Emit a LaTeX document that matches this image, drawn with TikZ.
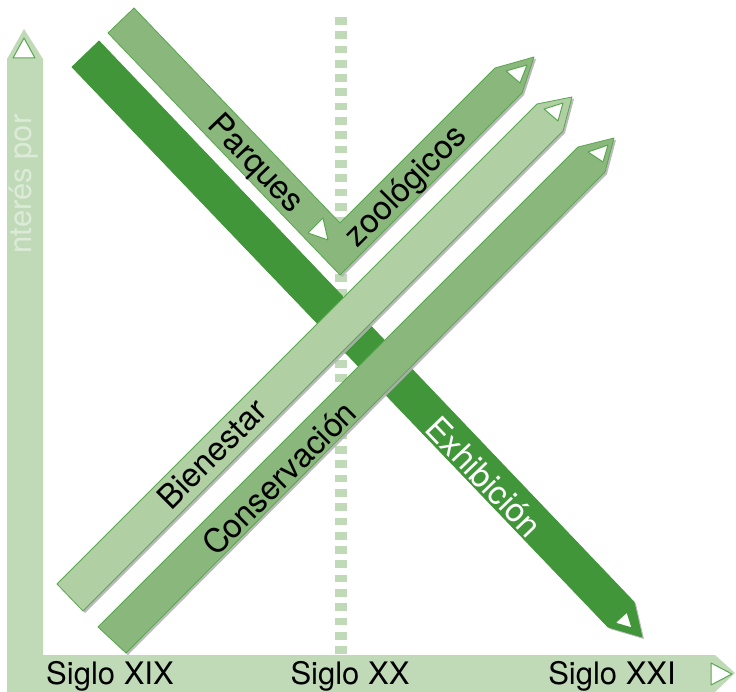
\documentclass[tikz,border=0pt]{standalone}
\usepackage{fontspec}
\setmainfont{TeX Gyre Heros}
\usetikzlibrary{shadows}
\definecolor{darkband}{HTML}{409638}
\definecolor{midband}{HTML}{8AB77C}
\definecolor{lightband}{HTML}{B0D0A4}
\definecolor{axisband}{HTML}{C0DAB8}
\definecolor{edgegreen}{HTML}{5AA650}
\begin{document}
\begin{tikzpicture}[
		x=1pt, y=-1pt,
		band/.style={draw=edgegreen, line width=0.8pt, line join=round,
				drop shadow={shadow xshift=2pt, shadow yshift=-2pt, fill=black!30, opacity=0.9}},
		tipmark/.style={draw=edgegreen, fill=white, line width=1pt, line join=round},
		bandtext/.style={font=\fontsize{33}{36}\selectfont, inner sep=0pt},
		eratext/.style={font=\fontsize{31}{35}\selectfont, inner sep=0pt}
	]
	\useasboundingbox (0,0) rectangle (736,692);
	\fill[axisband] (7,692) -- (7,59) -- (24,29) -- (43,59) -- (43,655) -- (715,655) -- (735,673) -- (715,692) -- cycle;
	\filldraw[tipmark] (24,38) -- (35,58) -- (13,58) -- cycle;
	\filldraw[tipmark] (711,663) -- (732,674) -- (711,685) -- cycle;
	\node[eratext, rotate=90, text=axisband!55!white] (interes) at (24,184) {nterés por};
	\foreach \name/\x/\txt in {xix/110/Siglo XIX, xx/350/Siglo XX, xxi/612/Siglo XXI}
		\node[eratext] (\name) at (\x,676) {\txt};
	\draw[axisband, line width=12pt, dash pattern=on 7.7pt off 6.6pt] (341,17) -- (341,655);

	\path[band, fill=darkband, draw=darkband] (72,67) -- (99,41) -- (634,602) -- (642,637) -- (608,627) -- cycle;
	\filldraw[tipmark, draw=darkband] (615,623) -- (627,612) -- (632,628) -- cycle;

	\path[band, fill=midband] (134,8) -- (340,223) -- (495,68) -- (534,57) -- (522,93) -- (340,275) -- (108,33) -- cycle;
	\filldraw[tipmark] (506,71) -- (527,65) -- (520,83) -- cycle;
	\filldraw[tipmark] (308,233) -- (323,218) -- (328,240) -- cycle;

	\path[band, fill=lightband] (57,584) -- (537,104) -- (572,97) -- (563,131) -- (83,611) -- cycle;
	\filldraw[tipmark] (544,109) -- (563,103) -- (558,121) -- cycle;

	\path[band, fill=midband] (98,627) -- (578,147) -- (614,138) -- (605,172) -- (126,653) -- cycle;
	\filldraw[tipmark] (588,152) -- (608,145) -- (603,162) -- cycle;

	\node[bandtext, rotate=-46.2] (parques) at (255,165) {Parques};
	\node[bandtext, rotate=45] (zoologicos) at (407,187) {zoológicos};
	\node[bandtext, rotate=45] (bienestar) at (212,454) {Bienestar};
	\node[bandtext, rotate=45] (conservacion) at (279,478) {Conservación};
	\node[bandtext, rotate=-46.2, text=white] (exhibicion) at (484,477) {Exhibición};
\end{tikzpicture}
\end{document}
